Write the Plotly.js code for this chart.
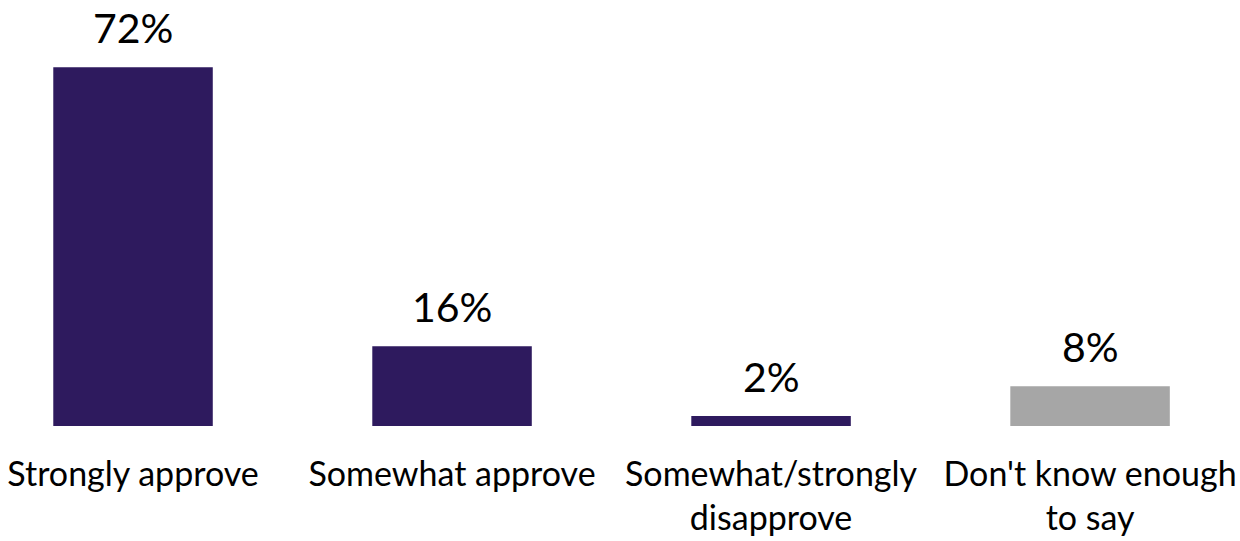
<!DOCTYPE html>
<html>
<head>
<meta charset="utf-8">
<script src="https://cdn.plot.ly/plotly-3.0.1.min.js"></script>
<style>html,body{margin:0;padding:0;background:#fff;}#chart{width:1240px;height:541px;}</style>
</head>
<body>
<div id="chart"></div>
<script>
const categories = ["Strongly approve", "Somewhat approve", "Somewhat/strongly<br>disapprove", "Don't know enough<br>to say"];
const values = [72, 16, 2, 8];
const labels = ["72%", "16%", "2%", "8%"];
const colors = ["#2E1A5E", "#2E1A5E", "#2E1A5E", "#A6A6A6"];

const trace = {
  type: "bar",
  x: categories,
  y: values,
  marker: {color: colors},
  width: 0.5,
  hoverinfo: "none"
};

const annotations = categories.map((c, i) => ({
  x: c, y: values[i], xref: "x", yref: "y",
  text: labels[i], showarrow: false,
  yanchor: "bottom", yshift: 13,
  font: {family: "Lato, 'Open Sans', sans-serif", size: 41, color: "#000"}
}));

const layout = {
  width: 1240, height: 541,
  margin: {l: 0, r: 0, t: 0, b: 115, pad: 0},
  paper_bgcolor: "#fff", plot_bgcolor: "#fff",
  showlegend: false,
  annotations: annotations,
  xaxis: {
    type: "category",
    range: [-0.417, 3.470],
    showgrid: false, zeroline: false, showline: false,
    ticks: "outside", ticklen: 18, tickcolor: "rgba(0,0,0,0)",
    tickfont: {family: "Lato, 'Open Sans', sans-serif", size: 34, color: "#000"}
  },
  yaxis: {
    range: [0, 85.5],
    visible: false, showgrid: false, zeroline: false
  },
  font: {family: "Lato, sans-serif"}
};

Plotly.newPlot("chart", [trace], layout, {displayModeBar: false, staticPlot: true});
</script>
</body>
</html>
